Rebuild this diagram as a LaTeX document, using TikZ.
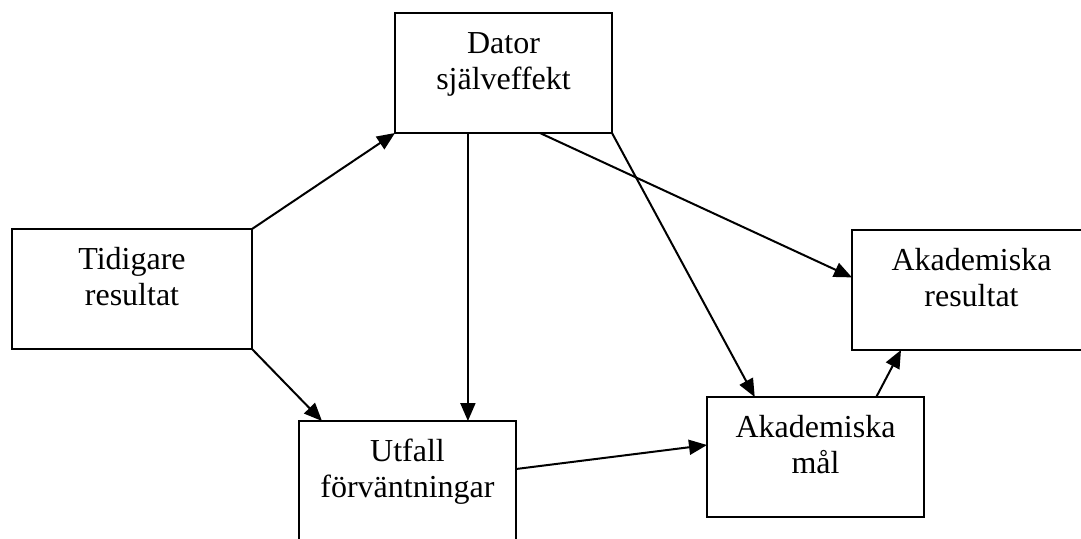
\documentclass[tikz,border=0pt]{standalone}
\usepackage{fontspec}
\setmainfont{Liberation Serif}
\usetikzlibrary{calc,arrows.meta}

\tikzset{
	box/.style={draw, line width=1pt, anchor=north west, inner sep=0pt, outer sep=0pt,
		align=center, text height=20pt, text depth=40pt, font=\fontsize{16}{18}\selectfont},
	link/.style={line width=1pt, -{Triangle[length=9pt,width=7.5pt]}}
}

\begin{document}
\begin{tikzpicture}[x=0.5pt, y=-0.5pt]
		%%%%% START %%%%%
		
		\clip (0, 0) rectangle (1081, 538);
		
		\node[box, text width=108.5pt] (dator) at (395, 13) {Dator\\själveffekt};
		\node[box, text width=120pt] (tidigare) at (12, 229) {Tidigare\\resultat};
		\node[box, text width=119.5pt] (akres) at (852, 230) {Akademiska\\resultat};
		\node[box, text width=108.5pt] (utfall) at (299, 421) {Utfall\\förväntningar};
		\node[box, text width=108.5pt] (akmal) at (707, 397) {Akademiska\\mål};
		
		\draw[link] (tidigare.north east) -- (dator.south west);
		\draw[link] (tidigare.south east) -- ($(utfall.north west)!0.106!(utfall.north east)$);
		\draw[link] ($(dator.south west)!0.336!(dator.south east)$) coordinate (d1) -- (d1 |- utfall.north);
		\draw[link] ($(dator.south west)!0.668!(dator.south east)$) -- ($(akres.north west)!0.395!(akres.south west)$);
		\draw[link] (dator.south east) -- ($(akmal.north west)!0.22!(akmal.north east)$);
		\draw[link] ($(utfall.north east)!0.4!(utfall.south east)$) -- ($(akmal.north west)!0.4!(akmal.south west)$);
		\draw[link] ($(akmal.north west)!0.78!(akmal.north east)$) -- ($(akres.south west)!0.205!(akres.south east)$);
		
		%%%%% END %%%%%
	\end{tikzpicture}
\end{document}
